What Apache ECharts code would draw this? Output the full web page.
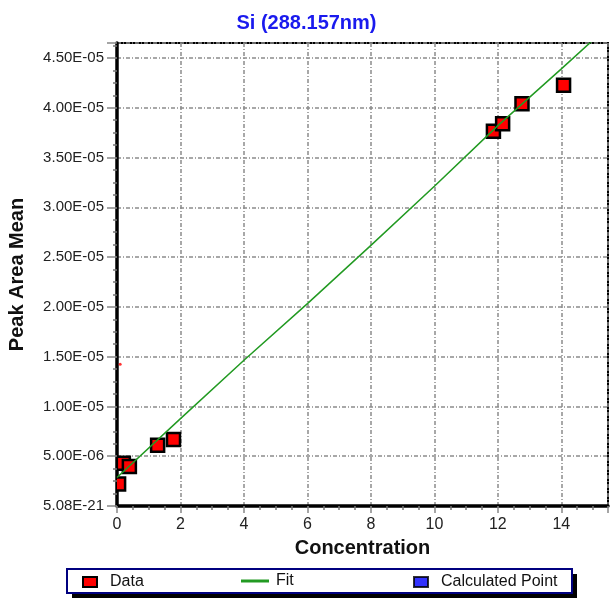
<!DOCTYPE html>
<html>
<head>
<meta charset="utf-8">
<script src="https://cdn.jsdelivr.net/npm/echarts@6/dist/echarts.min.js"></script>
<style>
  html, body { margin: 0; padding: 0; background: #fff; }
  #chart { width: 613px; height: 602px; }
</style>
</head>
<body>
<div id="chart"></div>
<script>
// calibration standards (concentration vs peak area mean)
const dataX = [0.05, 0.2, 0.39, 1.28, 1.78, 11.86, 12.15, 12.76, 14.07];
const dataY = [2.2e-6, 4.3e-6, 3.97e-6, 6.1e-6, 6.68e-6, 3.763e-5, 3.84e-5, 4.04e-5, 4.225e-5];

// fitted curve
const fitX = [0, 2, 4, 6, 8, 10, 12, 14, 15];
const fitY = [2.86e-6, 8.78e-6, 1.464e-5, 2.033e-5, 2.618e-5, 3.211e-5, 3.82e-5, 4.39e-5, 4.68e-5];

// small red tick on the y axis
const markX = [0.1];
const markY = [1.424e-5];

const yTickLabels = ["5.08E-21", "5.00E-06", "1.00E-05", "1.50E-05", "2.00E-05",
	"2.50E-05", "3.00E-05", "3.50E-05", "4.00E-05", "4.50E-05"];
const xTickLabels = ["0", "2", "4", "6", "8", "10", "12", "14"];

const font = "Liberation Sans, Arial, sans-serif";
const zip = (xs, ys) => xs.map((x, i) => [x, ys[i]]);

const chart = echarts.init(document.getElementById("chart"));

const gridLine = {
	show: true,
	lineStyle: { color: "#8c8c8c", width: 1.5, type: [4, 2, 1, 2] },
};

// square markers, clipped to the plot area like the original
const squareItem = (params, api) => {
	const p = api.coord([api.value(0), api.value(1)]);
	const s = 13;
	return {
		type: "rect",
		shape: { x: p[0] - s / 2, y: p[1] - s / 2, width: s, height: s },
		style: { fill: "#ff0000", stroke: "#000", lineWidth: 2.5 },
	};
};

chart.setOption({
	animation: false,
	backgroundColor: "#fff",
	title: {
		text: "Si (288.157nm)",
		left: "center",
		top: 8,
		textStyle: { color: "#1a1aee", fontSize: 20, fontWeight: "bold", fontFamily: font },
	},
	grid: {
		left: 117,
		top: 43,
		right: 5,
		bottom: 96,
		outerBoundsMode: "none",
		show: true,
		borderColor: "#000",
		borderWidth: 2,
		backgroundColor: "#fff",
	},
	xAxis: {
		type: "value",
		min: 0,
		max: 15.47,
		interval: 2,
		name: "Concentration",
		nameLocation: "middle",
		nameGap: 32,
		nameTextStyle: { color: "#111", fontSize: 20, fontWeight: "bold", fontFamily: font },
		axisLine: { show: true, lineStyle: { color: "#000", width: 3.5 } },
		axisTick: { show: true, length: 7, lineStyle: { color: "#888", width: 1.5 } },
		minorTick: { show: true, splitNumber: 4, length: 4, lineStyle: { color: "#777", width: 1.5 } },
		axisLabel: {
			margin: 11,
			color: "#222",
			fontSize: 16,
			fontFamily: font,
			showMaxLabel: false,
			formatter: (v, i) => (i < xTickLabels.length ? xTickLabels[i] : ""),
		},
		splitLine: gridLine,
	},
	yAxis: {
		type: "value",
		min: 0,
		max: 4.65e-5,
		interval: 5e-6,
		name: "Peak Area Mean",
		nameLocation: "middle",
		nameGap: 90,
		nameTextStyle: { color: "#111", fontSize: 20, fontWeight: "bold", fontFamily: font },
		axisLine: { show: true, lineStyle: { color: "#000", width: 3.5 } },
		axisTick: { show: true, length: 10, lineStyle: { color: "#888", width: 1.5 } },
		minorTick: { show: true, splitNumber: 4, length: 4, lineStyle: { color: "#777", width: 1.5 } },
		axisLabel: {
			margin: 13,
			color: "#222",
			fontSize: 15,
			fontFamily: font,
			showMaxLabel: false,
			formatter: (v, i) => (i < yTickLabels.length ? yTickLabels[i] : ""),
		},
		splitLine: gridLine,
	},
	legend: [
		{
			data: ["Data"],
			left: 82,
			top: 574,
			padding: 0,
			itemWidth: 14,
			itemHeight: 10,
			icon: "rect",
			itemStyle: { color: "#ff0000", borderColor: "#000", borderWidth: 2 },
			textStyle: { color: "#111", fontSize: 16, fontFamily: font, padding: [0, 0, 0, 8] },
		},
		{
			data: ["Fit"],
			left: 241,
			top: 573,
			padding: 0,
			itemWidth: 28,
			itemHeight: 3,
			icon: "rect",
			itemStyle: { color: "#229a22", borderWidth: 0 },
			lineStyle: { width: 0 },
			textStyle: { color: "#111", fontSize: 16, fontFamily: font, padding: [0, 0, 0, 2] },
		},
		{
			data: ["Calculated Point"],
			left: 413,
			top: 574,
			padding: 0,
			itemWidth: 14,
			itemHeight: 10,
			icon: "rect",
			itemStyle: { color: "#0000ff", borderColor: "#000", borderWidth: 2 },
			textStyle: { color: "#111", fontSize: 16, fontFamily: font, padding: [0, 0, 0, 8] },
		},
	],
	graphic: [
		{
			// drop shadow of the legend box
			type: "rect",
			z: 0,
			shape: { x: 72, y: 574, width: 505, height: 24 },
			style: { fill: "#000" },
		},
		{
			type: "rect",
			z: 1,
			shape: { x: 67, y: 569, width: 505, height: 24 },
			style: { fill: "#fff", stroke: "#00007f", lineWidth: 2 },
		},
	],
	series: [
		{
			name: "Data",
			type: "custom",
			clip: true,
			renderItem: squareItem,
			itemStyle: { color: "#ff0000" },
			data: zip(dataX, dataY),
			z: 3,
		},
		{
			name: "mark",
			type: "scatter",
			symbol: "circle",
			symbolSize: 3,
			itemStyle: { color: "#ff0000" },
			data: zip(markX, markY),
			z: 3,
		},
		{
			name: "Fit",
			type: "line",
			showSymbol: false,
			symbol: "none",
			lineStyle: { color: "#229a22", width: 1.5 },
			itemStyle: { color: "#229a22" },
			data: zip(fitX, fitY),
			z: 4,
		},
		{
			name: "Calculated Point",
			type: "scatter",
			symbol: "rect",
			itemStyle: { color: "#0000ff", borderColor: "#000", borderWidth: 2 },
			data: [],
		},
	],
});
</script>
</body>
</html>
